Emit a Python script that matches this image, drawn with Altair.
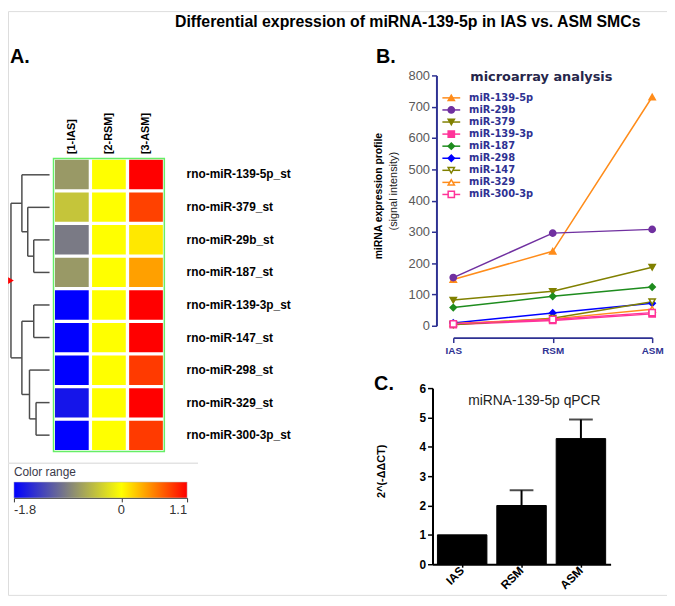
import altair as alt
import pandas as pd

# ---------------- text ----------------
fig_title = "Differential expression of miRNA-139-5p in IAS vs. ASM SMCs"

# ---------------- Panel A: heat map ----------------
heat_rows = ["rno-miR-139-5p_st", "rno-miR-379_st", "rno-miR-29b_st", "rno-miR-187_st",
             "rno-miR-139-3p_st", "rno-miR-147_st", "rno-miR-298_st", "rno-miR-329_st",
             "rno-miR-300-3p_st"]
heat_cols = ["[1-IAS]", "[2-RSM]", "[3-ASM]"]
heat_ias = [-0.72, -0.41, -0.94, -0.72, -1.8, -1.8, -1.8, -1.65, -1.8]
heat_rsm = [0.0, 0.0, 0.0, 0.0, 0.0, 0.0, 0.0, 0.0, 0.0]
heat_asm = [1.1, 0.82, 0.1, 0.41, 1.1, 1.1, 0.85, 1.1, 0.85]
color_ticks = [-1.8, 0, 1.1]
color_range = ["#0000ff", "#ffff00", "#ff0000"]

# dendrogram merges: ints = leaf rows, strings = earlier merges
dendro_names = ["a", "b", "c", "d", "e", "f", "g", "root"]
dendro_left = [2, 1, 0, 4, 7, 6, "d", "c"]
dendro_right = [3, "a", "b", 5, 8, "e", "f", "g"]
dendro_height = [0.41, 0.565, 0.717, 0.41, 0.35, 0.52, 0.717, 1.0]

# ---------------- Panel B: microarray ----------------
b_cats = ["IAS", "RSM", "ASM"]
b_series = ["miR-139-5p", "miR-29b", "miR-379", "miR-139-3p", "miR-187",
            "miR-298", "miR-147", "miR-329", "miR-300-3p"]
v_139_5p = [148, 238, 731]
v_29b = [154, 296, 308]
v_379 = [82, 110, 187]
v_139_3p = [4, 17, 38]
v_187 = [58, 94, 124]
v_298 = [9, 41, 72]
v_147 = [3, 24, 77]
v_329 = [7, 22, 53]
v_300_3p = [6, 20, 42]
b_values = [v_139_5p, v_29b, v_379, v_139_3p, v_187, v_298, v_147, v_329, v_300_3p]
b_colors = ["#FF8C1A", "#7030A0", "#808000", "#FF3399", "#1E8C1E",
            "#0000FF", "#808000", "#FF8C1A", "#FF3399"]
b_fills = ["#FF8C1A", "#7030A0", "#808000", "#FF3399", "#1E8C1E",
           "#0000FF", "#ffffff", "#ffffff", "#ffffff"]
b_shapes = ["triangle-up", "circle", "triangle-down", "square", "diamond",
            "diamond", "triangle-down", "triangle-up", "square"]

# ---------------- Panel C: qPCR ----------------
c_cats = ["IAS", "RSM", "ASM"]
c_mean = [1.0, 2.0, 4.28]
c_err = [0.0, 0.52, 0.65]

# ---------------- layout constants ----------------
W, H = 666, 590
NAVY = "#2E3192"
FONT = "Liberation Sans"

# ---------------- tables ----------------
heat_df = pd.DataFrame(
    [{"row": r, "col": c, "value": v}
     for c, vals in zip(heat_cols, [heat_ias, heat_rsm, heat_asm])
     for r, v in zip(heat_rows, vals)]
)

pos = {i: float(i) for i in range(len(heat_rows))}
hgt = {i: 0.0 for i in range(len(heat_rows))}
segs = []
for n, l, r, h in zip(dendro_names, dendro_left, dendro_right, dendro_height):
    yl, yr = pos[l], pos[r]
    segs.append({"x1": h, "x2": h, "y1": yl, "y2": yr})
    segs.append({"x1": hgt[l], "x2": h, "y1": yl, "y2": yl})
    segs.append({"x1": hgt[r], "x2": h, "y1": yr, "y2": yr})
    pos[n] = (yl + yr) / 2
    hgt[n] = h
seg_df = pd.DataFrame(segs)
root_df = pd.DataFrame([{"x1": hgt["root"], "y1": pos["root"]}])

b_df = pd.DataFrame(
    [{"series": s, "cat": c, "ci": i, "value": v}
     for s, vals in zip(b_series, b_values)
     for i, (c, v) in enumerate(zip(b_cats, vals))]
)
leg_df = pd.DataFrame({"series": b_series})

c_df = pd.DataFrame({"cat": c_cats, "mean": c_mean, "err": c_err})


def label(text, u, v, **kw):
    return alt.Chart(pd.DataFrame({"t": [text]})).mark_text(**kw).encode(
        x=alt.value(u), y=alt.value(v), text="t:N")


NUM_EXPR = ("datum.value == 0 ? '0' : (datum.value < 0 ? '-' + format(-datum.value, '.1f') "
            ": format(datum.value, '.1f'))")

# ---------------- Panel A ----------------
dx = alt.Scale(domain=[0, 1], range=[42, 3], nice=False, zero=False)
dy = alt.Scale(domain=[-0.5, 8.5], range=[149, 445], nice=False, zero=False)
dendro = alt.Chart(seg_df).mark_rule(color="#4d4d4d", strokeWidth=1.5).encode(
    x=alt.X("x1:Q", scale=dx, axis=None), x2="x2:Q",
    y=alt.Y("y1:Q", scale=dy, axis=None), y2="y2:Q")
root_pt = alt.Chart(root_df).mark_point(shape="triangle-right", filled=True, color="#ff0000",
                                        size=45, opacity=1).encode(
    x=alt.X("x1:Q", scale=dx, axis=None), y=alt.Y("y1:Q", scale=dy, axis=None))
dendro_layer = alt.layer(dendro, root_pt)

heat = alt.Chart(heat_df).mark_rect().encode(
    x=alt.X("col:N", scale=alt.Scale(domain=heat_cols, range=[46, 158], paddingInner=0.09, paddingOuter=0.04),
            axis=alt.Axis(orient="top", offset=-149, title=None, labelAngle=270, labelAlign="left",
                          labelBaseline="middle", labelPadding=5, ticks=False, tickSize=0, domain=False,
                          labelFontSize=11, labelFontWeight="bold", labelColor="black")),
    y=alt.Y("row:N", scale=alt.Scale(domain=heat_rows, range=[149, 445], paddingInner=0.1, paddingOuter=0.04),
            axis=alt.Axis(orient="right", offset=158 - W, title=None, labelPadding=22, ticks=False,
                          tickSize=0, domain=False, labelFontSize=12, labelFontWeight="bold",
                          labelColor="black", labelOverlap=False)),
    color=alt.Color("value:Q",
                    scale=alt.Scale(domain=color_ticks, range=color_range, interpolate="rgb"),
                    legend=alt.Legend(orient="none", legendX=6, legendY=461, direction="horizontal",
                                      title="Color range", titleFontSize=12, titleFontWeight="normal",
                                      titleColor="#3a3a4a", titlePadding=3, titleAnchor="start",
                                      gradientLength=175, gradientThickness=16, values=color_ticks,
                                      labelExpr=NUM_EXPR, labelFontSize=13, labelColor="#333333",
                                      labelOffset=6, labelOverlap=False,
                                      gradientStrokeColor="#bbbbbb", gradientStrokeWidth=0.5)))

frame = alt.Chart(pd.DataFrame({"t": [0]})).mark_rect(fill=None, stroke="#66ee66", strokeWidth=1.5).encode(
    x=alt.value(46), x2=alt.value(158), y=alt.value(149), y2=alt.value(445))

sep = alt.Chart(pd.DataFrame({"t": [0]})).mark_rule(color="#e3e3e3", strokeWidth=1.5).encode(
    x=alt.value(0), x2=alt.value(192), y=alt.value(457))

cbar_axis = alt.Chart(pd.DataFrame({"tick": color_ticks})).mark_point(opacity=0).encode(
    x=alt.X("tick:Q", scale=alt.Scale(domain=[-1.8, 1.1], range=[6, 181], nice=False, zero=False),
            axis=alt.Axis(orient="bottom", offset=492 - H, values=color_ticks, labels=False,
                          tickSize=4, tickColor="#333333", domainColor="#333333",
                          title=None, grid=False)))

# ---------------- Panel B ----------------
stroke_scale = alt.Scale(domain=b_series, range=b_colors)
fill_scale = alt.Scale(domain=b_series, range=b_fills)
shape_scale = alt.Scale(domain=b_series, range=b_shapes)

bx = alt.X("cat:N", scale=alt.Scale(type="point", domain=b_cats, range=[450, 651], padding=0),
           axis=alt.Axis(orient="bottom", offset=330 - H, title=None, labelAngle=0, domainColor=NAVY,
                         domainWidth=2, tickColor=NAVY, tickWidth=1.5, tickSize=5, labelColor=NAVY,
                         labelFontWeight="bold", labelFontSize=10, labelPadding=3))
by = alt.Y("value:Q", scale=alt.Scale(domain=[0, 800], range=[318, 65], nice=False, zero=False),
           axis=alt.Axis(orient="left", offset=-433, values=list(range(0, 801, 100)), title=None,
                         domainColor=NAVY, domainWidth=2, tickColor=NAVY, tickWidth=1.5, tickSize=5,
                         labelColor="#595959", labelFontSize=13, labelPadding=2))
b_line = alt.Chart(b_df).mark_line(strokeWidth=1.5).encode(
    x=bx, y=by, stroke=alt.Stroke("series:N", scale=stroke_scale, legend=None), order="ci:Q")
b_pts = alt.Chart(b_df).mark_point(filled=True, size=40, strokeWidth=1.5, opacity=1).encode(
    x=bx, y=by,
    stroke=alt.Stroke("series:N", scale=stroke_scale, legend=None),
    fill=alt.Fill("series:N", scale=fill_scale, legend=None),
    shape=alt.Shape("series:N", scale=shape_scale, legend=None))
b_data = alt.layer(b_line, b_pts)

leg_y = alt.Y("series:N", scale=alt.Scale(type="point", domain=b_series, range=[87.7, 185.3], padding=0),
              axis=None)
leg_rule = alt.Chart(leg_df).mark_rule(strokeWidth=1.5).encode(
    x=alt.value(439), x2=alt.value(457), y=leg_y,
    stroke=alt.Stroke("series:N", scale=stroke_scale, legend=None))
leg_pt = alt.Chart(leg_df).mark_point(filled=True, size=40, strokeWidth=1.5, opacity=1).encode(
    x=alt.value(448), y=leg_y,
    stroke=alt.Stroke("series:N", scale=stroke_scale, legend=None),
    fill=alt.Fill("series:N", scale=fill_scale, legend=None),
    shape=alt.Shape("series:N", scale=shape_scale, legend=None))
leg_txt = alt.Chart(leg_df).mark_text(align="left", baseline="middle", fontWeight="bold", fontSize=10,
                                      color=NAVY, font="DejaVu Sans").encode(
    x=alt.value(466), y=leg_y, text="series:N")
b_legend = alt.layer(leg_rule, leg_pt, leg_txt)

# ---------------- Panel C ----------------
c_base = alt.Chart(c_df).transform_calculate(upper="datum.mean + datum.err")
cx = alt.X("cat:N", scale=alt.Scale(type="band", domain=c_cats, range=[429, 609],
                                    paddingInner=1 / 6, paddingOuter=1 / 12),
           axis=alt.Axis(orient="bottom", offset=559 - H, title=None, labelAngle=315, labelAlign="right",
                         labelBaseline="middle", labelFontSize=12, labelFontWeight="bold",
                         labelColor="black", domainColor="black", domainWidth=2, tickColor="black",
                         tickSize=3, tickWidth=1.5, labelPadding=1))
cy_scale = alt.Scale(domain=[0, 6], range=[559, 381], nice=False)
cy_axis = alt.Axis(orient="left", offset=-429, values=[0, 1, 2, 3, 4, 5, 6], title=None,
                   labelFontSize=12, labelFontWeight="bold", labelColor="black", domainColor="black",
                   domainWidth=2, tickColor="black", tickSize=5, tickWidth=1.5, labelPadding=2)
c_bars = c_base.mark_bar(color="black", stroke="black", strokeWidth=1).encode(
    x=cx, y=alt.Y("mean:Q", scale=cy_scale, axis=cy_axis))
c_rule = c_base.transform_filter("datum.err > 0").mark_rule(color="black", strokeWidth=2).encode(
    x=cx, y=alt.Y("mean:Q", scale=cy_scale, axis=cy_axis), y2="upper:Q")
c_cap = c_base.transform_filter("datum.err > 0").mark_tick(color="black", thickness=2, size=24).encode(
    x=cx, y=alt.Y("upper:Q", scale=cy_scale, axis=cy_axis))
c_layer = alt.layer(c_bars, c_rule, c_cap)

# ---------------- text labels ----------------
texts = [
    label(fig_title, 404, 11, fontSize=16, fontWeight="bold", align="center", baseline="middle"),
    label("A.", 12, 46, fontSize=20, fontWeight="bold", align="center", baseline="middle"),
    label("B.", 382, 46, fontSize=20, fontWeight="bold", align="center", baseline="middle"),
    label("C.", 380, 377, fontSize=20, fontWeight="bold", align="center", baseline="middle"),
    label("microarray analysis", 539, 67, fontSize=13, fontWeight="bold", align="center",
          baseline="middle", color="#26264a", font="DejaVu Sans"),
    label("miRNA expression profile", 375, 187, fontSize=10.5, fontWeight="bold", align="center",
          baseline="middle", angle=270),
    label("(signal intensity)", 390, 182, fontSize=11, align="center", baseline="middle", angle=270,
          color="#222222"),
    label("miRNA-139-5p qPCR", 532, 394, fontSize=14, align="center", baseline="middle",
          color="#222222"),
    label("2^(-\u0394\u0394CT)", 378, 465, fontSize=11, fontWeight="bold", align="center",
          baseline="middle", angle=270),
]

chart = alt.layer(
    dendro_layer, heat, frame, sep, cbar_axis, b_data, b_legend, c_layer, *texts
).resolve_scale(x="independent", y="independent").properties(
    width=W, height=H, autosize=alt.AutoSizeParams(type="none"), padding=0
).configure_view(stroke=None).configure_axis(grid=False).configure(font=FONT)

chart.save("out.html", embed_options={"renderer": "svg", "actions": False})
